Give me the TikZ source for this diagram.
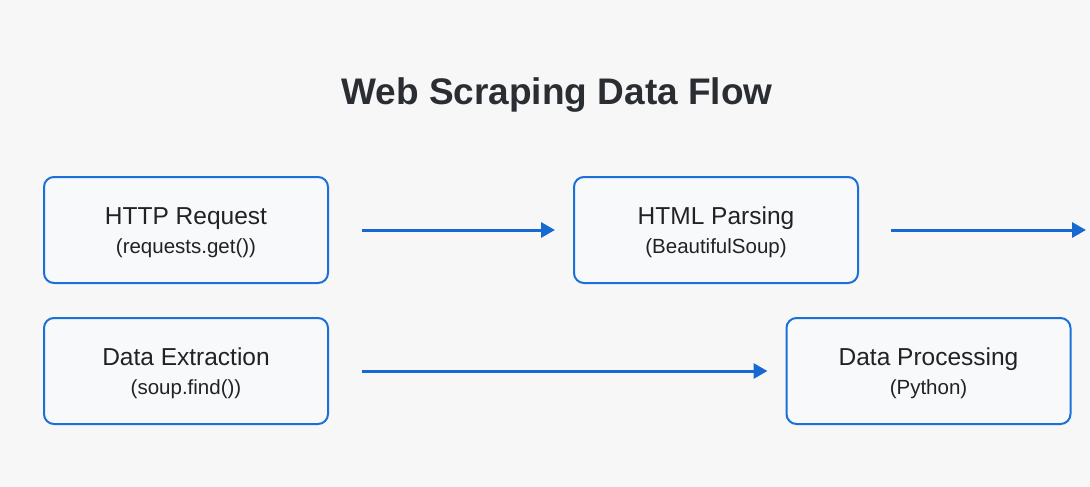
\documentclass[tikz,border=0pt]{standalone}
\usepackage{fontspec}
\setmainfont{Liberation Sans}
\usetikzlibrary{arrows.meta}
\definecolor{bg}{HTML}{F7F7F7}
\definecolor{boxfill}{HTML}{F8F9FB}
\definecolor{boxline}{HTML}{1A70D8}
\definecolor{arrowc}{HTML}{1769D2}
\definecolor{titlec}{HTML}{2A2E33}
\definecolor{textc}{HTML}{222222}
\tikzset{
  stagebox/.style={draw=boxline, line width=2pt, fill=boxfill, rounded corners=10pt,
    minimum width=284pt, minimum height=106pt, inner sep=0pt},
  maintext/.style={anchor=base, text=textc, font=\fontsize{24.5pt}{28pt}\selectfont, inner sep=0pt},
  subtext/.style={anchor=base, text=textc, font=\fontsize{20.5pt}{24pt}\selectfont, inner sep=0pt},
  flowarrow/.style={draw=arrowc, line width=3pt, -{Triangle[length=14pt, width=15pt]}},
}
\begin{document}
\begin{tikzpicture}[x=1pt,y=1pt]
\fill[bg] (0,0) rectangle (1090,-487);
\useasboundingbox (0,0) rectangle (1090,-487);

\node[anchor=base, text=titlec, font=\fontsize{37pt}{42pt}\selectfont\bfseries, inner sep=0pt]
  (title) at (557,-104) {Web Scraping Data Flow};

\node[stagebox] (http) at (186,-230) {};
\node[stagebox] (html) at (716,-230) {};
\node[stagebox] (ext) at (186,-371) {};
\node[stagebox] (proc) at (928.5,-371) {};

\node[maintext] (http-a) at ([yshift=5.7pt]http.center) {HTTP Request};
\node[subtext]  (http-b) at ([yshift=-23.3pt]http.center) {(requests.get())};
\node[maintext] (html-a) at ([yshift=5.7pt]html.center) {HTML Parsing};
\node[subtext]  (html-b) at ([yshift=-23.3pt]html.center) {(BeautifulSoup)};
\node[maintext] (ext-a) at ([yshift=5.7pt]ext.center) {Data Extraction};
\node[subtext]  (ext-b) at ([yshift=-23.3pt]ext.center) {(soup.find())};
\node[maintext] (proc-a) at ([yshift=5.7pt]proc.center) {Data Processing};
\node[subtext]  (proc-b) at ([yshift=-23.3pt]proc.center) {(Python)};

\coordinate (out) at (1086,-230);
\draw[flowarrow] ([xshift=33pt]http.east) -- ([xshift=-18pt]html.west);
\draw[flowarrow] ([xshift=32pt]html.east) -- (out);
\draw[flowarrow] ([xshift=33pt]ext.east) -- ([xshift=-18pt]proc.west);
\end{tikzpicture}
\end{document}
